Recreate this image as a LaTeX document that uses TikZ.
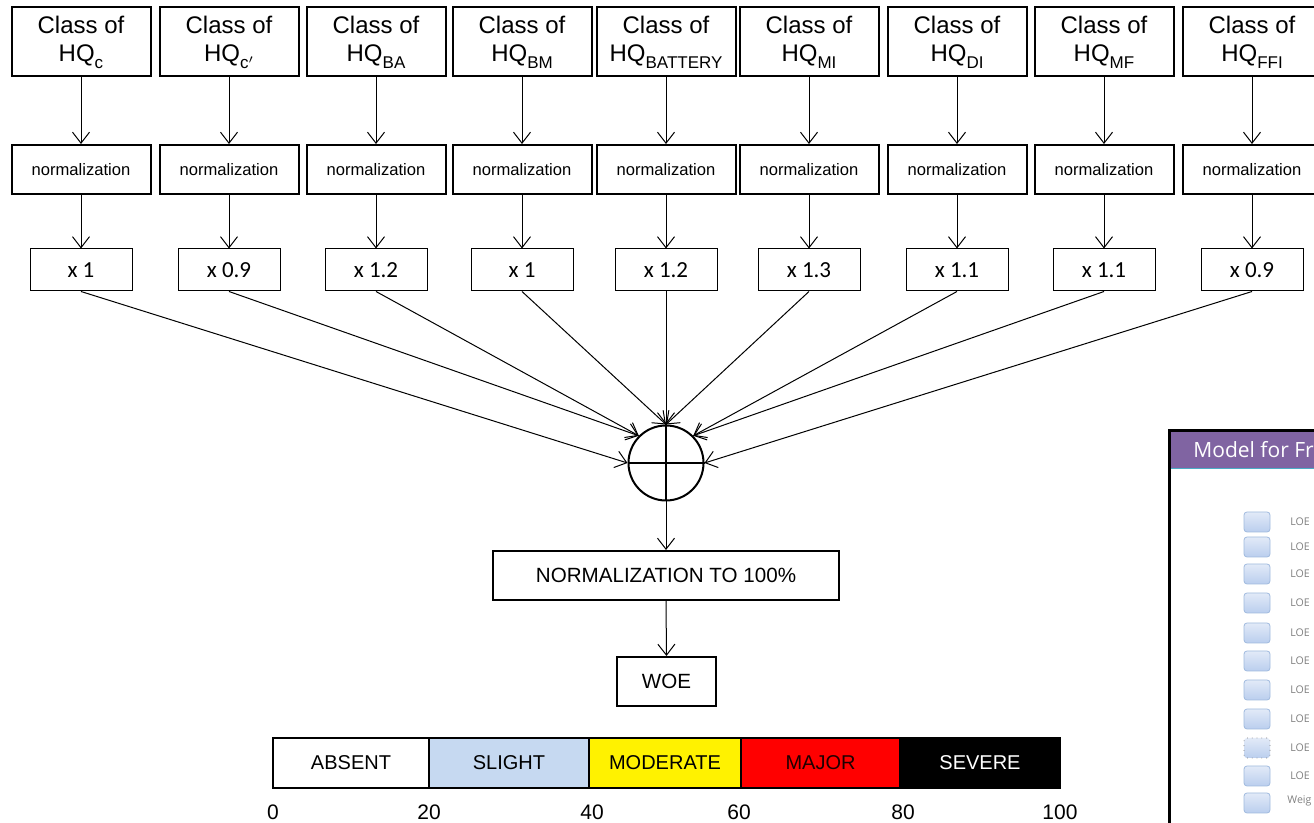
\documentclass[tikz,border=0pt]{standalone}
\usepackage{fontspec}
\setmainfont{Liberation Sans}
\newfontfamily\calibrifont{Carlito}
\newfontfamily\panelfont{Open Sans}
\usetikzlibrary{positioning,arrows.meta,calc}
\definecolor{slightblue}{RGB}{198,217,241}
\definecolor{majortext}{RGB}{30,0,0}
\definecolor{panelpurple}{RGB}{128,100,162}
\definecolor{panelline}{RGB}{75,172,198}
\definecolor{btnedge}{RGB}{160,186,222}
\definecolor{btntop}{RGB}{226,234,248}
\definecolor{btnbottom}{RGB}{186,206,238}
\definecolor{loegray}{RGB}{128,128,128}
\newcommand\hqsub[1]{\raisebox{-3.5pt}[0pt][0pt]{\fontsize{8.5}{9}\selectfont#1}}

\begin{document}
\begin{tikzpicture}[x=0.5pt,y=-0.5pt,
  every node/.style={font=\fontsize{12}{14}\selectfont},
  classbox/.style={draw,line width=1pt,minimum width=69.5pt,minimum height=34.5pt,align=center,inner sep=0pt},
  normbox/.style={draw,line width=1pt,minimum width=69.5pt,minimum height=24.5pt,inner sep=0pt,font=\fontsize{8.3}{10}\selectfont},
  weightbox/.style={draw,line width=0.5pt,minimum width=51pt,minimum height=21pt,inner sep=0pt,font=\calibrifont\fontsize{11.5}{13}\selectfont},
  bigbox/.style={draw,line width=1pt,minimum height=24.5pt,inner sep=0pt,font=\fontsize{10.3}{12}\selectfont},
  flow/.style={-{Straight Barb[length=5.5pt,width=8.5pt]},line width=0.5pt},
  band/.style={draw,line width=0.6pt,minimum height=25pt,inner sep=0pt,font=\fontsize{10}{12}\selectfont},
  scalenum/.style={font=\fontsize{10.5}{12}\selectfont,inner sep=0pt},
  loebtn/.style={draw=btnedge,rounded corners=1.5pt,top color=btntop,bottom color=btnbottom,minimum width=13pt,minimum height=10pt,inner sep=0pt},
  loelabel/.style={anchor=west,inner sep=0pt,text=loegray,font=\panelfont\fontsize{5.3}{6}\selectfont}]
  \useasboundingbox (0,0) rectangle (1314,823);
  \clip (0,0) rectangle (1314,823);
  \node[circle,draw,line width=1pt,minimum size=37.5pt,inner sep=0pt] (sum) at (666,463) {};
  \draw[line width=1pt] (sum.west) -- (sum.east) (sum.north) -- (sum.south);
  \foreach \x/\n/\lab/\w/\anc in {81/c/c/1/west, 229/cp/c$'$/0.9/north west, 376/ba/BA/1.2/north west,
      522/bm/BM/1/north, 666/bat/BATTERY/1.2/north, 809/mi/MI/1.3/north,
      957/di/DI/1.1/north east, 1104/mf/MF/1.1/north east, 1252/ffi/FFI/0.9/east} {
    \node[classbox] (class\n) at (\x,41.5) {Class of\\HQ\hqsub{\lab}};
    \node[normbox] (norm\n) at (\x,169.5) {normalization};
    \node[weightbox] (weight\n) at (\x,270) {x \w};
    \draw[flow] (class\n.south) -- (norm\n.north);
    \draw[flow] (norm\n.south) -- (weight\n.north);
    \draw[flow] (weight\n.south) -- (sum.\anc);
  }
  \node[bigbox,minimum width=173pt] (norm100) at (666,575.5) {NORMALIZATION TO 100\%};
  \node[bigbox,minimum width=49.5pt] (woe) at (666.5,681.5) {WOE};
  \draw[flow] (sum.south) -- (norm100.north);
  \draw[flow] (norm100.south) -- (woe.north);
  \node[band,minimum width=78pt] (absent) at (351,763) {ABSENT};
  \node[band,minimum width=80pt,fill=slightblue] (slight) at (509,763) {SLIGHT};
  \node[band,minimum width=76pt,fill=yellow] (moderate) at (665,763) {MODERATE};
  \node[band,minimum width=79.5pt,fill=red,text=majortext] (major) at (820.5,763) {MAJOR};
  \node[band,minimum width=80pt,fill=black,text=white] (severe) at (980,763) {SEVERE};
  \node[scalenum] (n0) at (273,812) {0};
  \node[scalenum] (n20) at (429,812) {20};
  \node[scalenum] (n40) at (592,812) {40};
  \node[scalenum] (n60) at (739,812) {60};
  \node[scalenum] (n80) at (903,812) {80};
  \node[scalenum] (n100) at (1060,812) {100};
  \fill[panelpurple] (1170,432) rectangle (1330,468);
  \draw[panelline,line width=0.6pt] (1170,468.5) -- (1330,468.5);
  \draw[line width=1.5pt] (1169,431) rectangle (1340,840);
  \node[anchor=base west,inner sep=0pt,text=white,font=\panelfont\fontsize{10.5}{12}\selectfont] (paneltitle) at (1193,458) {Model for Fr};
  \foreach \y/\t in {522/LOE,547/LOE,574/LOE,603/LOE,633/LOE,661/LOE,690/LOE,719/LOE,776/LOE} {
    \node[loebtn] (btn\y) at (1257,\y) {};
    \node[loelabel] (loe\y) at (1290,\y) {\t};
  }
  \node[loebtn,draw=loegray,dotted] (btnfocus) at (1257,748) {};
  \node[loelabel] (loefocus) at (1290,748) {LOE};
  \node[loebtn] (btnweig) at (1257,803) {};
  \node[loelabel] (weig) at (1287,801) {Weig};
\end{tikzpicture}
\end{document}
